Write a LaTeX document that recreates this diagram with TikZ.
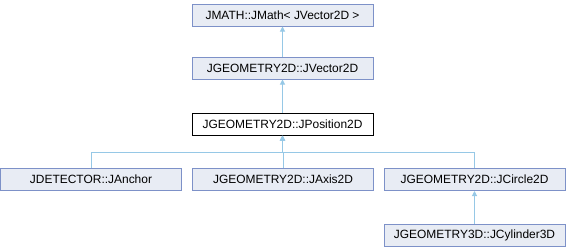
\documentclass[tikz,border=0pt]{standalone}
\usepackage{fontspec}
\setmainfont{Liberation Sans}
\usetikzlibrary{arrows.meta}
\definecolor{boxfill}{RGB}{232,236,244}
\definecolor{boxline}{RGB}{125,145,200}
\definecolor{edgeblue}{RGB}{150,200,230}
\tikzset{
  cls/.style={draw=boxline, fill=boxfill, line width=1bp, minimum width=181bp,
    minimum height=22bp, inner sep=0pt, font=\fontsize{12}{14}\selectfont},
  cur/.style={cls, draw=black, fill=white},
  inh/.style={draw=edgeblue, line width=1bp, {Triangle[width=5bp,length=5bp]}-}
}
\begin{document}
\begin{tikzpicture}[x=1bp, y=-1bp]
    \useasboundingbox (0,0) rectangle (566,248);
    % Base classes
    \node[cls] (jmath) at (282.5,15) {JMATH::JMath< JVector2D >};
    \node[cls] (jvector) at (282.5,68) {JGEOMETRY2D::JVector2D};
    % This class
    \node[cur] (jposition) at (282.5,124) {JGEOMETRY2D::JPosition2D};
    % Derived classes
    \node[cls] (janchor) at (91,179.5) {JDETECTOR::JAnchor};
    \node[cls] (jaxis) at (283,179.5) {JGEOMETRY2D::JAxis2D};
    \node[cls] (jcircle) at (474.5,179.5) {JGEOMETRY2D::JCircle2D};
    \node[cls] (jcylinder) at (474.5,235.5) {JGEOMETRY3D::JCylinder3D};
    % Inheritance
    \draw[inh] (jmath.south) -- (jvector.north);
    \draw[inh] (jvector.south) -- (jposition.north);
    \draw[inh] (jposition.south) -- ++(0,17) -| (janchor.north);
    \draw[inh] (jposition.south) -- ++(0,17) -| (jaxis.north);
    \draw[inh] (jposition.south) -- ++(0,17) -| (jcircle.north);
    \draw[inh] (jcircle.south) -- (jcylinder.north);
\end{tikzpicture}
\end{document}
